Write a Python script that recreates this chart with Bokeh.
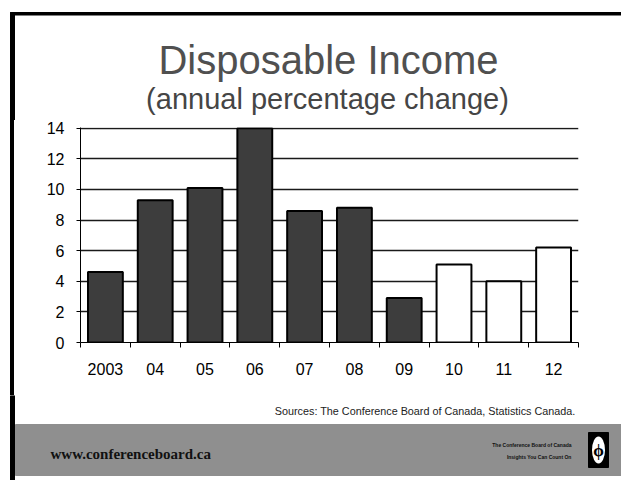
from bokeh.plotting import figure
from bokeh.models import Range1d, FixedTicker, Div
from bokeh.layouts import column, row
from bokeh.core.properties import value
from bokeh.embed import file_html
from bokeh.resources import INLINE

# ---- data ----
years = ["2003", "04", "05", "06", "07", "08", "09", "10", "11", "12"]
change = [4.6, 9.3, 10.1, 14.0, 8.6, 8.8, 2.9, 5.1, 4.0, 6.2]
forecast = [False, False, False, False, False, False, False, True, True, True]
y_ticks = [0, 2, 4, 6, 8, 10, 12, 14]

title_text = "Disposable Income"
subtitle_text = "(annual percentage change)"
source_text = "Sources: The Conference Board of Canada, Statistics Canada."
url_text = "www.conferenceboard.ca"
org_line1 = "The Conference Board of Canada"
org_line2 = "Insights You Can Count On"

W, H = 621, 480
FONT = "Liberation Sans"
HEAD_H, MID_H = 120, 275
FOOT_H = H - HEAD_H - MID_H
STRIP_W = 15


def deco_fig(w, h, y0, y1, x0=0):
    """Plain figure whose data coordinates equal page pixels (y grows downwards)."""
    f = figure(width=w, height=h, output_backend="svg", toolbar_location=None,
               x_range=Range1d(x0, x0 + w), y_range=Range1d(y1, y0),
               x_axis_location=None, y_axis_location=None,
               min_border=0, min_border_left=0, min_border_right=0,
               min_border_top=0, min_border_bottom=0)
    f.grid.grid_line_color = None
    f.outline_line_color = None
    f.background_fill_color = "white"
    f.border_fill_color = "white"
    return f


def txt(f, x, y, s, size, align="center", color="black", font=FONT, style="normal"):
    f.text(x=[x], y=[y], text=[s], text_font=value(font), text_font_size=size,
           text_align=align, text_baseline="middle", text_color=color,
           text_font_style=style)


# ---- header ----
head = deco_fig(W, HEAD_H, 0, HEAD_H)
head.quad(left=[10], right=[14], top=[12], bottom=[HEAD_H], color="black")
head.quad(left=[10], right=[W], top=[12], bottom=[14.5], color="black")
txt(head, 328, 59.5, title_text, "40px", color="#505050")
txt(head, 327, 98, subtitle_text, "29px", color="#454545")

# ---- left border strip (plain html block) ----
strip = Div(width=STRIP_W, height=MID_H, margin=0,
            text='<div style="margin-left:10px;width:4px;height:%dpx;background:#000"></div>' % MID_H)

# ---- chart ----
idx = list(range(len(years)))
fills = ["white" if f else "#3d3d3d" for f in forecast]

p = figure(width=W - STRIP_W, height=MID_H, output_backend="svg", toolbar_location=None,
           x_range=Range1d(-0.5, len(years) - 0.5), y_range=Range1d(0, 14.05),
           min_border_left=80 - STRIP_W, min_border_right=43, min_border_top=7,
           min_border_bottom=53)
p.outline_line_color = None
p.background_fill_color = "white"
p.border_fill_color = "white"

p.vbar(x=idx, top=change, width=0.7, fill_color=fills, line_color="black",
       line_width=2)

p.yaxis.ticker = FixedTicker(ticks=y_ticks)
p.yaxis.axis_line_color = "black"
p.yaxis.major_tick_out = 4
p.yaxis.major_tick_in = 0
p.yaxis.minor_tick_line_color = None
p.yaxis.major_label_text_font = FONT
p.yaxis.major_label_text_font_size = "16px"
p.yaxis.major_label_text_color = "black"
p.yaxis.major_label_standoff = 12

p.xaxis.ticker = FixedTicker(ticks=idx, minor_ticks=[i - 0.5 for i in range(len(years) + 1)])
p.xaxis.major_label_overrides = {i: y for i, y in zip(idx, years)}
p.xaxis.axis_line_color = "black"
p.xaxis.major_tick_line_color = None
p.xaxis.major_tick_out = 0
p.xaxis.major_tick_in = 0
p.xaxis.minor_tick_line_color = "black"
p.xaxis.minor_tick_out = 5
p.xaxis.minor_tick_in = 0
p.xaxis.major_label_text_font = FONT
p.xaxis.major_label_text_font_size = "16px"
p.xaxis.major_label_text_color = "black"
p.xaxis.major_label_standoff = 15

p.xgrid.grid_line_color = None
p.ygrid.grid_line_color = "#1a1a1a"
p.ygrid.grid_line_width = 1.3

# ---- footer ----
foot = deco_fig(W, FOOT_H, HEAD_H + MID_H, H)
foot.quad(left=[10], right=[14], top=[HEAD_H + MID_H], bottom=[H], color="black")
foot.quad(left=[15], right=[W], top=[424], bottom=[475], color="#8f8f8f")
foot.quad(left=[588], right=[608], top=[432], bottom=[467], color="black")
foot.ellipse(x=[598], y=[449.5], width=13, height=27, fill_color="white", line_color=None)
txt(foot, 598, 450, "\u03d5", "17px", color="black", font="Liberation Serif", style="bold")
txt(foot, 575, 410.5, source_text, "10.8px", align="right", color="#222222")
txt(foot, 50, 453.5, url_text, "15px", align="left", color="#111111",
    font="Liberation Serif", style="bold")
txt(foot, 571, 444.5, org_line1, "5px", align="right", color="#111111", style="bold")
txt(foot, 571, 456.5, org_line2, "5px", align="right", color="#111111", style="bold")

layout = column(head, row(strip, p), foot)
open("out.html", "w").write(file_html(layout, INLINE))
